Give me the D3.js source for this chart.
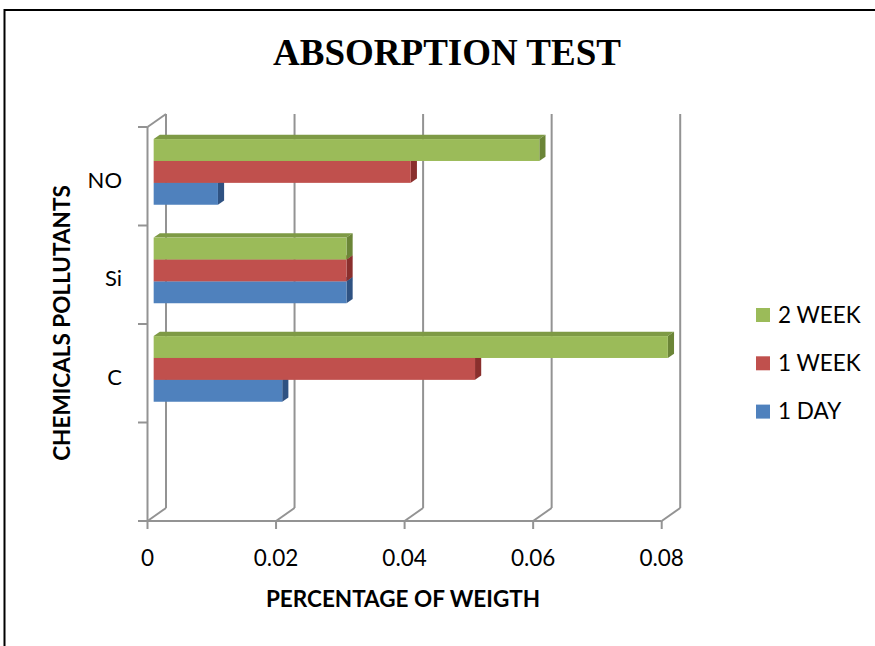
<!DOCTYPE html>
<html>
<head>
<meta charset="utf-8">
<script src="https://cdn.jsdelivr.net/npm/d3@7"></script>
<style>
  html, body { margin: 0; padding: 0; background: #fff; }
  svg { display: block; }
</style>
</head>
<body>
<svg id="chart" width="875" height="646"></svg>
<script>
// Absorption test: percentage of weight gained per pollutant and exposure time
const categories = ["NO", "Si", "C", ""];
const seriesNames = ["2 WEEK", "1 WEEK", "1 DAY"];
const twoWeek = [0.06, 0.03, 0.08, null];
const oneWeek = [0.04, 0.03, 0.05, null];
const oneDay  = [0.01, 0.03, 0.02, null];
const xTicks = [0, 0.02, 0.04, 0.06, 0.08];
const xTickLabels = ["0", "0.02", "0.04", "0.06", "0.08"];

const seriesValues = [twoWeek, oneWeek, oneDay];
const palette = {
  "2 WEEK": { front: "#9bbb59", top: "#7e9a45", side: "#6b8537" },
  "1 WEEK": { front: "#c0504d", top: "#9c3b39", side: "#8a2f2d" },
  "1 DAY":  { front: "#4f81bd", top: "#3d6799", side: "#2f5282" }
};

const svg = d3.select("#chart");
const font = "Lato, 'Open Sans', sans-serif";

// outer frame
svg.append("rect")
  .attr("x", 4.5).attr("y", 10)
  .attr("width", 900).attr("height", 700)
  .attr("fill", "none").attr("stroke", "#000").attr("stroke-width", 2);

// title
svg.append("text")
  .attr("x", 447).attr("y", 65)
  .attr("text-anchor", "middle")
  .attr("font-family", "'Liberation Serif', 'Times New Roman', serif")
  .attr("font-weight", "bold")
  .attr("font-size", 37)
  .text("ABSORPTION TEST");

// pseudo-3D geometry: front plane and wall depth
const depth = { dx: 18.5, dy: -13 };
const x = d3.scaleLinear().domain([0, 0.08]).range([147.5, 661.7]);
const y = d3.scaleBand().domain(categories).range([127, 521]).padding(0);
const inner = d3.scaleBand().domain(seriesNames).range([0, y.bandwidth()])
  .paddingInner(0).paddingOuter(0.75);

const grid = svg.append("g")
  .attr("stroke", "#939393").attr("stroke-width", 2).attr("fill", "none");
const yTop = y.range()[0], yBot = y.range()[1];
const line = (x1, y1, x2, y2) => grid.append("line")
  .attr("x1", x1).attr("y1", y1).attr("x2", x2).attr("y2", y2);

// back wall vertical gridlines and floor diagonals
xTicks.forEach(t => {
  const xf = x(t), xb = x(t) + depth.dx;
  line(xb, yTop + depth.dy, xb, yBot + depth.dy);
  line(xf, yBot, xb, yBot + depth.dy);
  line(xf, yBot, xf, yBot + 8); // tick mark
});
// front floor edge
line(x(0), yBot, x(0.08), yBot);
// left wall edges
line(x(0), yTop, x(0), yBot);
line(x(0), yTop, x(0) + depth.dx, yTop + depth.dy);
// category tick marks
y.domain().concat(["__end"]).forEach((c, i) => {
  const yy = yTop + i * y.step();
  line(x(0) - 9.5, yy, x(0), yy);
});

// bars: front face sits one third into the depth, back face two thirds
const f = { x: depth.dx / 3, y: depth.dy / 3 };
const b = { x: depth.dx * 2 / 3, y: depth.dy * 2 / 3 };
const bars = svg.append("g");
// draw bottom series first so upper bars overlap their top faces
[...seriesNames].reverse().forEach(name => {
  const vals = seriesValues[seriesNames.indexOf(name)];
  const col = palette[name];
  categories.forEach((cat, ci) => {
    const v = vals[ci];
    if (v == null) return;
    const xl = x(0), xr = x(v);
    const yt = y(cat) + inner(name), yb = yt + inner.bandwidth();
    const poly = pts => pts.map(p => p.join(",")).join(" ");
    // top face
    bars.append("polygon")
      .attr("points", poly([[xl + f.x, yt + f.y], [xl + b.x, yt + b.y], [xr + b.x, yt + b.y], [xr + f.x, yt + f.y]]))
      .attr("fill", col.top);
    // end face
    bars.append("polygon")
      .attr("points", poly([[xr + f.x, yt + f.y], [xr + b.x, yt + b.y], [xr + b.x, yb + b.y], [xr + f.x, yb + f.y]]))
      .attr("fill", col.side);
    // front face
    bars.append("rect")
      .attr("x", xl + f.x).attr("y", yt + f.y)
      .attr("width", xr - xl).attr("height", yb - yt)
      .attr("fill", col.front);
  });
});

// category labels
svg.append("g").selectAll("text")
  .data(categories.filter(c => c !== ""))
  .join("text")
  .attr("x", 122)
  .attr("y", d => y(d) + y.bandwidth() / 2 + 4)
  .attr("dy", "0.35em")
  .attr("text-anchor", "end")
  .attr("font-family", font).attr("font-size", 22)
  .text(d => d);

// x tick labels
svg.append("g").selectAll("text")
  .data(xTicks)
  .join("text")
  .attr("x", d => x(d))
  .attr("y", 558)
  .attr("dy", "0.35em")
  .attr("text-anchor", "middle")
  .attr("font-family", font).attr("font-size", 22.5)
  .text((d, i) => xTickLabels[i]);

// axis titles
svg.append("text")
  .attr("x", 403).attr("y", 599).attr("dy", "0.35em")
  .attr("text-anchor", "middle")
  .attr("font-family", font).attr("font-weight", "bold").attr("font-size", 22.5)
  .text("PERCENTAGE OF WEIGTH");
svg.append("text")
  .attr("transform", "translate(62,323) rotate(-90)")
  .attr("dy", "0.35em")
  .attr("text-anchor", "middle")
  .attr("font-family", font).attr("font-weight", "bold").attr("font-size", 22.5)
  .text("CHEMICALS POLLUTANTS");

// legend
const legend = svg.append("g").selectAll("g")
  .data(seriesNames)
  .join("g")
  .attr("transform", (d, i) => `translate(756,${315 + i * 48.3})`);
legend.append("rect")
  .attr("x", 0).attr("y", -7).attr("width", 14).attr("height", 14)
  .attr("fill", d => palette[d].front);
legend.append("text")
  .attr("x", 22).attr("dy", "0.35em")
  .attr("font-family", font).attr("font-size", 22.5)
  .text(d => d);
</script>
</body>
</html>
